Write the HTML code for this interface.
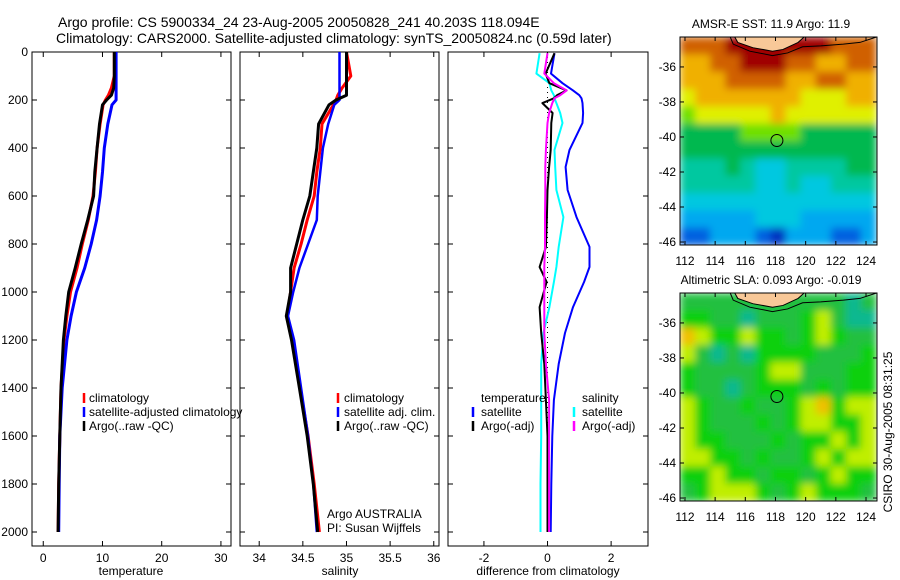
<!DOCTYPE html>
<html><head><meta charset="utf-8"><style>
body{margin:0;background:#fff}
svg{display:block;font-family:"Liberation Sans",sans-serif}
</style></head><body>
<svg id="c" width="900" height="580" viewBox="0 0 900 580">
<defs>
<filter id="blur" x="0" y="0" width="1" height="1" filterUnits="objectBoundingBox"><feGaussianBlur stdDeviation="4" edgeMode="duplicate"/></filter>
<clipPath id="clip1"><rect x="680" y="37" width="197" height="208"/></clipPath>
<clipPath id="clip2"><rect x="680" y="293" width="197" height="208"/></clipPath>
</defs>
</svg>
<script>
// ---- data ----
const depthT=[0,100,150,180,200,220,300,400,500,600,700,800,900,1000,1100,1200,1400,1600,1800,2000];
const tempClim=[12,12,11.5,11,10.5,10.1,9.6,9.1,8.8,8.4,7.6,6.6,5.7,4.6,4.0,3.5,3.0,2.8,2.6,2.5];
const tempSat=[12.3,12.3,12.3,12.3,12.3,11.6,10.9,10.3,10.0,9.6,9.0,8.1,7.0,5.6,4.7,4.0,3.2,2.8,2.7,2.6];
const tempArgo=[12,12,11.9,11.5,10.7,10.0,9.5,9.1,8.7,8.5,7.5,6.4,5.4,4.3,3.8,3.4,3.0,2.8,2.6,2.5];
const depthS=[0,60,100,150,180,200,220,300,400,500,600,700,800,900,1000,1100,1200,1400,1600,1800,2000];
const salClim=[35.0,35.03,35.05,34.95,34.9,34.88,34.85,34.72,34.7,34.66,34.63,34.55,34.48,34.4,34.36,34.32,34.38,34.47,34.56,34.63,34.69];
const salSat=[34.92,34.92,34.92,34.92,34.92,34.92,34.86,34.79,34.73,34.7,34.67,34.66,34.56,34.46,34.39,34.33,34.4,34.48,34.56,34.62,34.66];
const salArgo=[35.0,35.0,35.0,35.0,35.0,34.88,34.8,34.68,34.66,34.62,34.58,34.5,34.43,34.36,34.36,34.31,34.37,34.46,34.55,34.62,34.67];
const depthD=[5,90,130,160,180,193,213,254,296,408,479,575,688,812,896,958,1063,1171,1300,1450,1600,1800,2000];
const diffTSat=[0.22,0.11,0.47,0.8,1.0,1.07,1.1,1.12,1.1,0.69,0.57,0.63,0.91,1.32,1.32,1.15,0.8,0.55,0.35,0.2,0.15,0.12,0.1];
const diffTArgo=[0.22,-0.06,0.06,0.6,0.3,0.2,-0.16,0.16,0.12,0.1,0.05,0.0,-0.02,-0.05,-0.25,-0.03,-0.25,-0.2,-0.1,-0.05,0.0,0.0,0.0];
const diffSSat=[-0.25,-0.35,0.06,0.12,0.2,0.22,0.28,0.4,0.47,0.22,0.24,0.28,0.5,0.35,0.28,0.2,0.06,-0.13,-0.2,-0.2,-0.2,-0.22,-0.22];
const diffSArgo=[0.0,-0.1,0.2,0.6,0.4,0.22,0.15,0.05,0.0,-0.05,-0.07,-0.07,-0.08,-0.08,-0.1,-0.1,-0.1,-0.1,-0.05,0.05,0.05,0.05,0.05];
const depthTicks=[0,200,400,600,800,1000,1200,1400,1600,1800,2000];
const tempTicks=[0,10,20,30];
const salTicks=[34,34.5,35,35.5,36];
const salTickLabels=["34","34.5","35","35.5","36"];
const diffTicks=[-2,0,2];
const lonTicks=[112,114,116,118,120,122,124];
const latTicks=[-36,-38,-40,-42,-44,-46];
const sstGrid=[
[9,9,9,10,10,10,10,10,10,10,9,9,9],
[8,8,9,9,10,10,10,9,9,8,8,9,9],
[8,8,8,9,9,9,9,8,8,9,9,8,8],
[7,8,8,8,8,8,8,8,7,7,7,8,8],
[6,7,7,7,7,7,8,7,7,7,7,7,7],
[5,5,5,5,6,6,6,6,5,5,5,5,5],
[5,5,5,5,5,5,5,5,5,5,5,5,5],
[4,4,4,5,4,3,3,4,4,4,4,5,5],
[4,4,4,4,4,3,3,4,3,3,4,4,4],
[3,3,3,3,3,3,3,3,3,3,3,3,3],
[2,2,2,2,2,3,3,3,2,2,2,2,2],
[1,1,2,2,2,1,0,2,2,2,1,1,2]];
const slaGrid=[
[5,5,5,5,5,5,5,5,5,5,5,4,5],
[6,6,5,5,4,5,5,5,6,7,5,4,4],
[8,7,6,6,7,6,6,5,6,7,6,5,5],
[7,5,4,5,4,6,6,6,6,5,5,5,6],
[6,5,5,5,5,6,7,7,5,5,5,6,6],
[6,5,5,4,5,6,6,6,5,6,5,6,6],
[7,6,5,5,6,5,5,6,7,8,6,7,7],
[7,6,5,5,5,6,5,6,7,7,6,6,7],
[7,6,6,5,5,5,6,5,6,6,7,6,7],
[7,7,6,6,5,6,5,5,6,7,6,7,7],
[6,6,7,6,6,5,6,6,5,6,7,6,6],
[5,6,7,7,7,6,5,6,7,6,6,6,5]];
const cmap=["#0030c0","#0060e0","#00a8f0","#00c8e0","#00c8a0","#00b850","#70e000","#e0f000","#f0b000","#d06000","#a00000"];
const slaCmap=["#0030c0","#0060e0","#00a8f0","#00c8e0","#10b890","#20c040","#10d010","#c0ee00","#f0c000","#e08000","#c00000"];

const S=document.getElementById('c');const NS="http://www.w3.org/2000/svg";
function mk(t,a,txt,parent){const e=document.createElementNS(NS,t);for(const k in a)e.setAttribute(k,a[k]);if(txt!==undefined)e.textContent=txt;(parent||S).appendChild(e);return e;}
const yTop=52,yPer=0.24;
const yD=d=>yTop+d*yPer;

function panel(x0,x1,xmin,xmax,name){
  const sx=v=>x0+(v-xmin)/(xmax-xmin)*(x1-x0);
  const r=mk('rect',{x:x0,y:52,width:x1-x0,height:494,fill:'none',stroke:'#000','stroke-width':1});
  
  depthTicks.forEach(d=>{mk('line',{x1:x0,x2:x0+5,y1:yD(d),y2:yD(d),stroke:'#000'});mk('line',{x1:x1-5,x2:x1,y1:yD(d),y2:yD(d),stroke:'#000'});});
  return sx;
}
function line(sx,xs,ds,col,w,name){
  const p=xs.map((v,i)=>sx(v).toFixed(1)+','+yD(ds[i]).toFixed(1)).join(' ');
  const e=mk('polyline',{points:p,fill:'none',stroke:col,'stroke-width':w,'stroke-linejoin':'round'});
  
}
function txt(x,y,s,a,size,name){const e=mk('text',Object.assign({x:x,y:y,'font-size':size||12},a||{}),s);return e;}

txt(58,27,"Argo profile: CS 5900334_24 23-Aug-2005 20050828_241 40.203S 118.094E",{},14,'title-line-1');
txt(56,43,"Climatology: CARS2000. Satellite-adjusted climatology: synTS_20050824.nc (0.59d later)",{},14,'title-line-2');

let sx=panel(32,231,-1.9,31.7,'temperature-panel');
depthTicks.forEach(d=>txt(28,yD(d)+4,String(d),{'text-anchor':'end'},12,'depth-tick-label'));
tempTicks.forEach(v=>{mk('line',{x1:sx(v),x2:sx(v),y1:546,y2:541,stroke:'#000'});mk('line',{x1:sx(v),x2:sx(v),y1:52,y2:57,stroke:'#000'});txt(sx(v),562,String(v),{'text-anchor':'middle'},12,'temp-tick-label');});
txt(131,575,"temperature",{'text-anchor':'middle'},12,'x-axis-title-temperature');
line(sx,tempClim,depthT,'#f00',3,'temp-climatology-line');
line(sx,tempSat,depthT,'#00f',3,'temp-satellite-line');
line(sx,tempArgo,depthT,'#000',3,'temp-argo-line');
[['#f00','climatology'],['#00f','satellite-adjusted climatology'],['#000','Argo(..raw -QC)']].forEach((l,i)=>{
 const y=398+i*14;mk('line',{x1:84,x2:84,y1:y-5,y2:y+5,stroke:l[0],'stroke-width':2.5});txt(89,y+4,l[1],{},12,'legend-entry');});

sx=panel(240,439,33.78,36.06,'salinity-panel');
salTicks.forEach((v,i)=>{mk('line',{x1:sx(v),x2:sx(v),y1:546,y2:541,stroke:'#000'});mk('line',{x1:sx(v),x2:sx(v),y1:52,y2:57,stroke:'#000'});txt(sx(v),562,salTickLabels[i],{'text-anchor':'middle'},12,'sal-tick-label');});
txt(340,575,"salinity",{'text-anchor':'middle'},12,'x-axis-title-salinity');
line(sx,salClim,depthS,'#f00',3,'sal-climatology-line');
line(sx,salSat,depthS,'#00f',2.5,'sal-satellite-line');
line(sx,salArgo,depthS,'#000',3,'sal-argo-line');
[['#f00','climatology'],['#00f','satellite adj. clim.'],['#000','Argo(..raw -QC)']].forEach((l,i)=>{
 const y=398+i*14;mk('line',{x1:338,x2:338,y1:y-5,y2:y+5,stroke:l[0],'stroke-width':2.5});txt(344,y+4,l[1],{},12,'legend-entry');});
txt(327,518,"Argo AUSTRALIA",{},12,'agency-label');
txt(327,532,"PI: Susan Wijffels",{},12,'pi-label');

sx=panel(448,648,-3.13,3.16,'difference-panel');
diffTicks.forEach(v=>{mk('line',{x1:sx(v),x2:sx(v),y1:546,y2:541,stroke:'#000'});mk('line',{x1:sx(v),x2:sx(v),y1:52,y2:57,stroke:'#000'});txt(sx(v),562,String(v),{'text-anchor':'middle'},12,'diff-tick-label');});
txt(548,575,"difference from climatology",{'text-anchor':'middle'},12,'x-axis-title-difference');
mk('line',{x1:sx(0),x2:sx(0),y1:yD(0),y2:yD(2000),stroke:'#000','stroke-dasharray':'1,4'});
line(sx,diffTSat,depthD,'#00f',2,'diff-temp-satellite-line');
line(sx,diffSSat,depthD,'#0ff',2,'diff-sal-satellite-line');
line(sx,diffTArgo,depthD,'#000',2,'diff-temp-argo-line');
line(sx,diffSArgo,depthD,'#f0f',2,'diff-sal-argo-line');
txt(481,402,"temperature",{},12,'legend-header-temperature');
txt(582,402,"salinity",{},12,'legend-header-salinity');
[['#00f','satellite',473],['#000','Argo(-adj)',473],['#0ff','satellite',574],['#f0f','Argo(-adj)',574]].forEach((l,i)=>{
 const y=412+(i%2)*14;mk('line',{x1:l[2],x2:l[2],y1:y-5,y2:y+5,stroke:l[0],'stroke-width':2.5});txt(l[2]+8,y+4,l[1],{},12,'legend-entry');});

function map(y0,grid,cm,title,name,clip){
  const x0=680,x1=877,y1=y0+208;
  const mx=v=>x0+(v-111.67)/(124.73-111.67)*(x1-x0);
  const my=v=>y0+(-34.29-v)/(-34.29+46.17)*(y1-y0);
  const outer=mk('g',{'clip-path':'url(#'+clip+')'});
  const g=mk('g',{filter:'url(#blur)'},undefined,outer);
  
  grid.forEach((row,r)=>row.forEach((v,c)=>{
    const lon=111.67+c, lat=-34.29-r*0.99;
    const e=document.createElementNS(NS,'rect');
    const xa=mx(lon),xb=Math.min(mx(lon+1),x1),ya=my(lat),yb=Math.min(my(lat-0.99),y1);
    e.setAttribute('x',xa);e.setAttribute('y',ya);e.setAttribute('width',xb-xa+0.5);e.setAttribute('height',yb-ya+0.5);e.setAttribute('fill',cm[v]);
    
    
    g.appendChild(e);}));
  const land=[[115.3,-34.29],[115.5,-34.6],[116.5,-34.9],[117.8,-35.1],[118.5,-35.0],[119.5,-34.6],[119.9,-34.29]];
  const lp=mk('polygon',{points:land.map(p=>mx(p[0])+','+my(p[1])).join(' '),fill:'#f8c898'});
  const cl=[[115.0,-34.29],[115.2,-34.7],[116.3,-35.1],[117.8,-35.35],[118.8,-35.2],[119.8,-34.85],[121,-34.8],[122.5,-34.7],[123.6,-34.6],[124.7,-34.29]];
  mk('polyline',{points:cl.map(p=>mx(p[0])+','+my(p[1])).join(' '),fill:'none',stroke:'#000','stroke-width':1});
  mk('polyline',{points:land.map(p=>mx(p[0])+','+my(p[1])).join(' '),fill:'none',stroke:'#000','stroke-width':1});
  const ci=mk('circle',{cx:mx(118.094),cy:my(-40.203),r:6,fill:'none',stroke:'#000'});
  mk('rect',{x:x0,y:y0,width:x1-x0,height:y1-y0,fill:'none',stroke:'#000'});
  lonTicks.forEach(v=>{mk('line',{x1:mx(v),x2:mx(v),y1:y1,y2:y1-4,stroke:'#000'});mk('line',{x1:mx(v),x2:mx(v),y1:y0,y2:y0+4,stroke:'#000'});txt(mx(v),y1+20,String(v),{'text-anchor':'middle'},12,'lon-tick-label');});
  latTicks.forEach(v=>{mk('line',{x1:x0,x2:x0+4,y1:my(v),y2:my(v),stroke:'#000'});mk('line',{x1:x1-4,x2:x1,y1:my(v),y2:my(v),stroke:'#000'});txt(x0-4,my(v)+4,String(v),{'text-anchor':'end'},12,'lat-tick-label');});
  txt(771,y0-9,title,{'text-anchor':'middle'},12,name+'-title');
}
map(37,sstGrid,cmap,"AMSR-E SST: 11.9 Argo: 11.9",'sst-map','clip1');
map(293,slaGrid,slaCmap,"Altimetric SLA: 0.093 Argo: -0.019",'sla-map','clip2');
txt(0,0,"CSIRO 30-Aug-2005 08:31:25",{'text-anchor':'middle',transform:'translate(892,432) rotate(-90)'},12,'timestamp-label');
</script>
</body></html>
